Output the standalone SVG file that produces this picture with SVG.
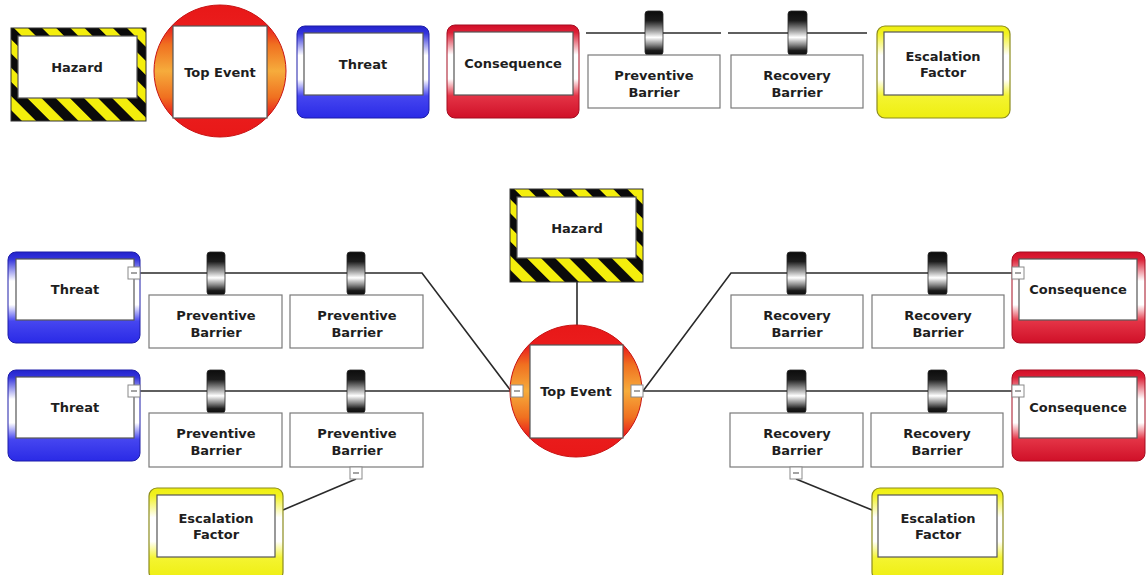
<svg xmlns="http://www.w3.org/2000/svg" width="1148" height="575" viewBox="0 0 1148 575">
  <defs>
    <style>
      .lbl { font-family: "DejaVu Sans", Verdana, sans-serif; font-weight: bold; font-size: 13px; fill: #1e1e1e; text-anchor: middle; }
      .conn { stroke: #2a2a2a; stroke-width: 1.6; fill: none; }
      .inner { fill: #ffffff; stroke: #555555; stroke-width: 1.2; }
      .bbox { fill: #ffffff; stroke: #7a7a7a; stroke-width: 1.2; }
      .threat { fill: url(#gThreat); stroke: #1c1ca8; stroke-width: 1; }
      .conseq { fill: url(#gConseq); stroke: #a50c20; stroke-width: 1; }
      .escal { fill: url(#gEscal); stroke: #8c8c1e; stroke-width: 1.2; }
      .hazard { fill: url(#stripes); stroke: #333333; stroke-width: 1; }
      .top { fill: url(#gTop); stroke: #c81414; stroke-width: 1; }
      .cyl { fill: url(#gCyl); stroke: #2a2a2a; stroke-width: 0.8; }
      .minus { fill: #ffffff; stroke: #8a8a8a; stroke-width: 1; }
      .dash { stroke: #666666; stroke-width: 1.2; }
    </style>
    <linearGradient id="gThreat" x1="0" y1="0" x2="0" y2="1">
      <stop offset="0" stop-color="#2323cc"/>
      <stop offset="0.08" stop-color="#3434dc"/>
      <stop offset="0.32" stop-color="#ffffff"/>
      <stop offset="0.58" stop-color="#ffffff"/>
      <stop offset="0.76" stop-color="#4646f0"/>
      <stop offset="1" stop-color="#2a2ae6"/>
    </linearGradient>
    <linearGradient id="gConseq" x1="0" y1="0" x2="0" y2="1">
      <stop offset="0" stop-color="#d20e28"/>
      <stop offset="0.08" stop-color="#dc2036"/>
      <stop offset="0.32" stop-color="#ffffff"/>
      <stop offset="0.58" stop-color="#ffffff"/>
      <stop offset="0.76" stop-color="#e43446"/>
      <stop offset="1" stop-color="#d01028"/>
    </linearGradient>
    <linearGradient id="gEscal" x1="0" y1="0" x2="0" y2="1">
      <stop offset="0" stop-color="#eeee10"/>
      <stop offset="0.08" stop-color="#f2f220"/>
      <stop offset="0.32" stop-color="#ffffff"/>
      <stop offset="0.58" stop-color="#ffffff"/>
      <stop offset="0.76" stop-color="#f4f430"/>
      <stop offset="1" stop-color="#eeee10"/>
    </linearGradient>
    <linearGradient id="gTop" x1="0" y1="0" x2="0" y2="1">
      <stop offset="0" stop-color="#e81818"/>
      <stop offset="0.16" stop-color="#ea1c1c"/>
      <stop offset="0.3" stop-color="#f07020"/>
      <stop offset="0.5" stop-color="#f6ac3c"/>
      <stop offset="0.7" stop-color="#f07020"/>
      <stop offset="0.84" stop-color="#ea1c1c"/>
      <stop offset="1" stop-color="#e81818"/>
    </linearGradient>
    <linearGradient id="gCyl" x1="0" y1="0" x2="0" y2="1">
      <stop offset="0" stop-color="#0c0c0c"/>
      <stop offset="0.22" stop-color="#1c1c1c"/>
      <stop offset="0.45" stop-color="#a0a0a0"/>
      <stop offset="0.6" stop-color="#ffffff"/>
      <stop offset="0.76" stop-color="#8c8c8c"/>
      <stop offset="0.9" stop-color="#1c1c1c"/>
      <stop offset="1" stop-color="#0c0c0c"/>
    </linearGradient>
    <pattern id="stripes" patternUnits="userSpaceOnUse" width="20" height="20" patternTransform="rotate(-45)">
      <rect x="0" y="0" width="20" height="20" fill="#f4ee0c"/>
      <rect x="0" y="0" width="10" height="20" fill="#0a0a0a"/>
    </pattern>
  </defs>

  <rect width="1148" height="575" fill="#ffffff"/>

  <!-- Legend row -->
  <g id="legend-hazard">
    <rect class="hazard" x="11" y="28" width="135" height="93"/>
    <rect class="inner" x="18" y="36" width="119" height="62"/>
    <text class="lbl" x="77" y="72">Hazard</text>
  </g>
  <g id="legend-top-event">
    <circle class="top" cx="220" cy="71" r="66"/>
    <rect class="inner" x="173" y="26" width="94" height="92"/>
    <text class="lbl" x="220" y="77">Top Event</text>
  </g>
  <g id="legend-threat">
    <rect class="threat" x="297" y="26" width="132" height="92" rx="8"/>
    <rect class="inner" x="304" y="33" width="119" height="62"/>
    <text class="lbl" x="363" y="69">Threat</text>
  </g>
  <g id="legend-consequence">
    <rect class="conseq" x="447" y="25" width="132" height="93" rx="8"/>
    <rect class="inner" x="454" y="32" width="119" height="63"/>
    <text class="lbl" x="513" y="68">Consequence</text>
  </g>
  <g id="legend-preventive-barrier">
    <line class="conn" x1="586" y1="33" x2="721" y2="33"/>
    <rect class="cyl" x="645" y="11" width="18" height="44" rx="3"/>
    <rect class="bbox" x="588" y="55" width="132" height="53"/>
    <text class="lbl" x="654" y="80">Preventive</text>
    <text class="lbl" x="654" y="97">Barrier</text>
  </g>
  <g id="legend-recovery-barrier">
    <line class="conn" x1="728" y1="33" x2="867" y2="33"/>
    <rect class="cyl" x="788" y="11" width="19" height="44" rx="3"/>
    <rect class="bbox" x="731" y="55" width="132" height="53"/>
    <text class="lbl" x="797" y="80">Recovery</text>
    <text class="lbl" x="797" y="97">Barrier</text>
  </g>
  <g id="legend-escalation-factor">
    <rect class="escal" x="877" y="26" width="133" height="92" rx="8"/>
    <rect class="inner" x="884" y="32" width="119" height="63"/>
    <text class="lbl" x="943" y="61">Escalation</text>
    <text class="lbl" x="943" y="77">Factor</text>
  </g>

  <!-- Connectors -->
  <g id="connectors">
    <line class="conn" x1="577" y1="282" x2="577" y2="326"/>
    <polyline class="conn" points="140,273 422,273 511,391"/>
    <line class="conn" x1="140" y1="391" x2="511" y2="391"/>
    <polyline class="conn" points="643,391 731,273 1012,273"/>
    <line class="conn" x1="643" y1="391" x2="1012" y2="391"/>
    <line class="conn" x1="356" y1="479" x2="283" y2="510"/>
    <line class="conn" x1="796" y1="479" x2="872" y2="510"/>
  </g>

  <!-- Bow-tie centre -->
  <g id="hazard">
    <rect class="hazard" x="510" y="189" width="133" height="93"/>
    <rect class="inner" x="517" y="197" width="119" height="61"/>
    <text class="lbl" x="577" y="233">Hazard</text>
  </g>
  <g id="top-event">
    <circle class="top" cx="576" cy="391" r="66"/>
    <rect class="inner" x="530" y="345" width="93" height="93"/>
    <text class="lbl" x="576" y="396">Top Event</text>
    <rect class="minus" x="511" y="385" width="12" height="12"/>
    <line class="dash" x1="514" y1="391" x2="520" y2="391"/>
    <rect class="minus" x="631" y="385" width="12" height="12"/>
    <line class="dash" x1="634" y1="391" x2="640" y2="391"/>
  </g>

  <!-- Threats -->
  <g id="threat-1">
    <rect class="threat" x="8" y="252" width="132" height="91" rx="8"/>
    <rect class="inner" x="16" y="259" width="118" height="61"/>
    <text class="lbl" x="75" y="294">Threat</text>
    <rect class="minus" x="128" y="267" width="12" height="12"/>
    <line class="dash" x1="131" y1="273" x2="137" y2="273"/>
  </g>
  <g id="threat-2">
    <rect class="threat" x="8" y="370" width="132" height="91" rx="8"/>
    <rect class="inner" x="16" y="377" width="118" height="61"/>
    <text class="lbl" x="75" y="412">Threat</text>
    <rect class="minus" x="128" y="385" width="12" height="12"/>
    <line class="dash" x1="131" y1="391" x2="137" y2="391"/>
  </g>

  <!-- Preventive barriers -->
  <g id="preventive-barrier-1a">
    <rect class="cyl" x="207" y="252" width="18" height="43" rx="3"/>
    <rect class="bbox" x="149" y="295" width="133" height="53"/>
    <text class="lbl" x="216" y="320">Preventive</text>
    <text class="lbl" x="216" y="337">Barrier</text>
  </g>
  <g id="preventive-barrier-1b">
    <rect class="cyl" x="347" y="252" width="18" height="43" rx="3"/>
    <rect class="bbox" x="290" y="295" width="133" height="53"/>
    <text class="lbl" x="357" y="320">Preventive</text>
    <text class="lbl" x="357" y="337">Barrier</text>
  </g>
  <g id="preventive-barrier-2a">
    <rect class="cyl" x="207" y="370" width="18" height="43" rx="3"/>
    <rect class="bbox" x="149" y="413" width="133" height="54"/>
    <text class="lbl" x="216" y="438">Preventive</text>
    <text class="lbl" x="216" y="455">Barrier</text>
  </g>
  <g id="preventive-barrier-2b">
    <rect class="cyl" x="347" y="370" width="18" height="43" rx="3"/>
    <rect class="bbox" x="290" y="413" width="133" height="54"/>
    <text class="lbl" x="357" y="438">Preventive</text>
    <text class="lbl" x="357" y="455">Barrier</text>
    <rect class="minus" x="350" y="467" width="12" height="12"/>
    <line class="dash" x1="353" y1="473" x2="359" y2="473"/>
  </g>

  <!-- Recovery barriers -->
  <g id="recovery-barrier-1a">
    <rect class="cyl" x="787" y="252" width="19" height="43" rx="3"/>
    <rect class="bbox" x="731" y="295" width="132" height="53"/>
    <text class="lbl" x="797" y="320">Recovery</text>
    <text class="lbl" x="797" y="337">Barrier</text>
  </g>
  <g id="recovery-barrier-1b">
    <rect class="cyl" x="928" y="252" width="19" height="43" rx="3"/>
    <rect class="bbox" x="872" y="295" width="132" height="53"/>
    <text class="lbl" x="938" y="320">Recovery</text>
    <text class="lbl" x="938" y="337">Barrier</text>
  </g>
  <g id="recovery-barrier-2a">
    <rect class="cyl" x="787" y="370" width="19" height="43" rx="3"/>
    <rect class="bbox" x="730" y="413" width="133" height="54"/>
    <text class="lbl" x="797" y="438">Recovery</text>
    <text class="lbl" x="797" y="455">Barrier</text>
    <rect class="minus" x="790" y="467" width="12" height="12"/>
    <line class="dash" x1="793" y1="473" x2="799" y2="473"/>
  </g>
  <g id="recovery-barrier-2b">
    <rect class="cyl" x="928" y="370" width="19" height="43" rx="3"/>
    <rect class="bbox" x="871" y="413" width="132" height="54"/>
    <text class="lbl" x="937" y="438">Recovery</text>
    <text class="lbl" x="937" y="455">Barrier</text>
  </g>

  <!-- Consequences -->
  <g id="consequence-1">
    <rect class="conseq" x="1012" y="252" width="133" height="91" rx="8"/>
    <rect class="inner" x="1019" y="259" width="118" height="61"/>
    <text class="lbl" x="1078" y="294">Consequence</text>
    <rect class="minus" x="1012" y="267" width="12" height="12"/>
    <line class="dash" x1="1015" y1="273" x2="1021" y2="273"/>
  </g>
  <g id="consequence-2">
    <rect class="conseq" x="1012" y="370" width="133" height="91" rx="8"/>
    <rect class="inner" x="1019" y="377" width="118" height="61"/>
    <text class="lbl" x="1078" y="412">Consequence</text>
    <rect class="minus" x="1012" y="385" width="12" height="12"/>
    <line class="dash" x1="1015" y1="391" x2="1021" y2="391"/>
  </g>

  <!-- Escalation factors -->
  <g id="escalation-factor-left">
    <rect class="escal" x="149" y="488" width="134" height="92" rx="8"/>
    <rect class="inner" x="157" y="495" width="118" height="62"/>
    <text class="lbl" x="216" y="523">Escalation</text>
    <text class="lbl" x="216" y="539">Factor</text>
  </g>
  <g id="escalation-factor-right">
    <rect class="escal" x="872" y="488" width="131" height="92" rx="8"/>
    <rect class="inner" x="878" y="495" width="119" height="62"/>
    <text class="lbl" x="938" y="523">Escalation</text>
    <text class="lbl" x="938" y="539">Factor</text>
  </g>
</svg>
